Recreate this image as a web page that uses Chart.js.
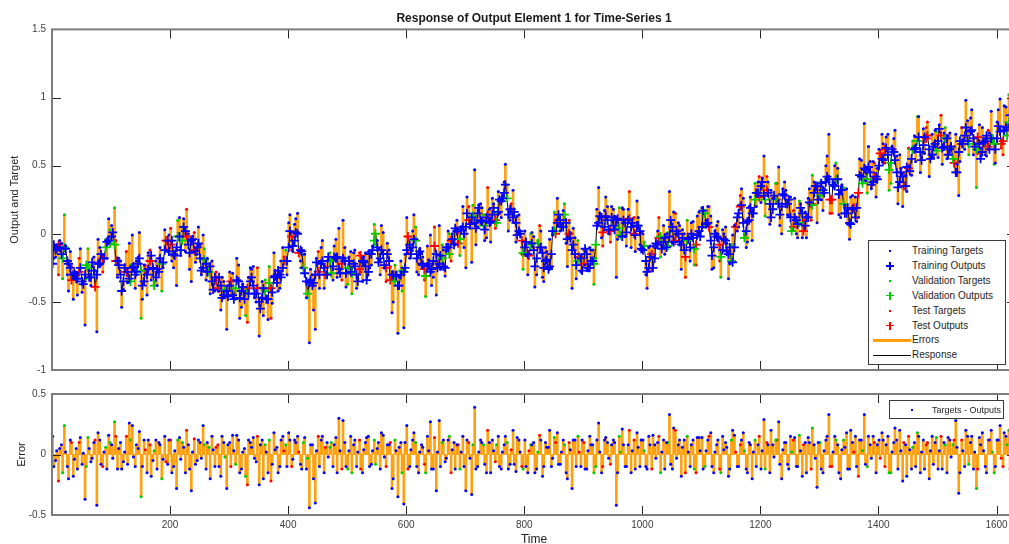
<!DOCTYPE html>
<html><head><meta charset="utf-8">
<script src="https://cdn.jsdelivr.net/npm/chart.js@4.4.1/dist/chart.umd.min.js"></script>
<style>
html,body{margin:0;padding:0;background:#fff;overflow:hidden;width:1009px;height:544px}
#wrap{position:relative;width:1009px;height:544px;overflow:hidden;font-family:"Liberation Sans",Arial,sans-serif}
.lg{position:absolute;background:#fff;border:1px solid #3a3a3a;box-sizing:border-box}
.row{position:absolute;left:0;width:100%;height:14px}
.txt{position:absolute;font-size:10px;line-height:14px;color:#1e1e1e;white-space:nowrap;top:0}
.dot{position:absolute;width:2px;height:2px;top:6px}
.ph{position:absolute;width:8px;height:1.6px;top:6.2px}
.pv{position:absolute;width:1.6px;height:8px;top:3px}
.ln{position:absolute;left:4px;width:38px}
</style></head>
<body><div id="wrap">
<canvas id="botC" width="1068" height="180" style="position:absolute;left:0;top:375px"></canvas>
<canvas id="topC" width="1068" height="382" style="position:absolute;left:0;top:0"></canvas>
<div id="legTop" class="lg" style="left:868px;top:240px;width:138px;height:125px"></div>
<div id="legBot" class="lg" style="left:889px;top:400px;width:115px;height:19px">
  <div class="dot" style="left:21px;top:8px;background:#0000ff"></div>
  <div class="txt" style="left:42px;top:2px;font-size:9px;line-height:14px">Targets - Outputs</div>
</div>
</div>
<script>
// ---- data ----
// samples A: time steps 1, 6, 11, ...
const timeStepsA = [
1,6,11,16,21,26,31,36,41,46,51,56,61,66,71,76,81,86,91,96,
101,106,111,116,121,126,131,136,141,146,151,156,161,166,171,176,181,186,191,196,
201,206,211,216,221,226,231,236,241,246,251,256,261,266,271,276,281,286,291,296,
301,306,311,316,321,326,331,336,341,346,351,356,361,366,371,376,381,386,391,396,
401,406,411,416,421,426,431,436,441,446,451,456,461,466,471,476,481,486,491,496,
501,506,511,516,521,526,531,536,541,546,551,556,561,566,571,576,581,586,591,596,
601,606,611,616,621,626,631,636,641,646,651,656,661,666,671,676,681,686,691,696,
701,706,711,716,721,726,731,736,741,746,751,756,761,766,771,776,781,786,791,796,
801,806,811,816,821,826,831,836,841,846,851,856,861,866,871,876,881,886,891,896,
901,906,911,916,921,926,931,936,941,946,951,956,961,966,971,976,981,986,991,996,
1001,1006,1011,1016,1021,1026,1031,1036,1041,1046,1051,1056,1061,1066,1071,1076,1081,1086,1091,1096,
1101,1106,1111,1116,1121,1126,1131,1136,1141,1146,1151,1156,1161,1166,1171,1176,1181,1186,1191,1196,
1201,1206,1211,1216,1221,1226,1231,1236,1241,1246,1251,1256,1261,1266,1271,1276,1281,1286,1291,1296,
1301,1306,1311,1316,1321,1326,1331,1336,1341,1346,1351,1356,1361,1366,1371,1376,1381,1386,1391,1396,
1401,1406,1411,1416,1421,1426,1431,1436,1441,1446,1451,1456,1461,1466,1471,1476,1481,1486,1491,1496,
1501,1506,1511,1516,1521,1526,1531,1536,1541,1546,1551,1556,1561,1566,1571,1576,1581,1586,1591,1596,
1601,1606,1611,1616,1621,1626];

const outputsA = [
-0.22,-0.12,-0.08,-0.15,-0.1,-0.2,-0.25,-0.3,-0.33,-0.28,-0.35,-0.3,-0.25,-0.32,-0.27,-0.3,-0.22,-0.18,-0.1,-0.05,
-0.02,-0.08,-0.2,-0.3,-0.35,-0.28,-0.33,-0.25,-0.3,-0.22,-0.27,-0.35,-0.3,-0.2,-0.25,-0.32,-0.28,-0.22,-0.12,-0.05,
-0.08,-0.15,-0.1,-0.02,-0.05,0.02,-0.08,-0.05,-0.12,-0.1,-0.18,-0.25,-0.22,-0.28,-0.35,-0.32,-0.4,-0.38,-0.45,-0.42,
-0.38,-0.45,-0.4,-0.35,-0.42,-0.48,-0.4,-0.35,-0.38,-0.44,-0.5,-0.47,-0.42,-0.48,-0.4,-0.32,-0.36,-0.3,-0.25,-0.2,
-0.1,-0.02,-0.05,0.0,-0.12,-0.25,-0.35,-0.36,-0.38,-0.3,-0.28,-0.22,-0.25,-0.3,-0.2,-0.24,-0.18,-0.26,-0.22,-0.2,
-0.25,-0.28,-0.22,-0.3,-0.26,-0.2,-0.24,-0.28,-0.15,-0.05,-0.1,-0.18,-0.15,-0.25,-0.2,-0.3,-0.35,-0.38,-0.3,-0.28,
-0.12,-0.08,-0.1,-0.05,-0.15,-0.22,-0.26,-0.24,-0.28,-0.2,-0.15,-0.22,-0.18,-0.25,-0.1,-0.05,-0.08,0.02,-0.04,0.05,
0.05,0.1,0.12,0.08,0.15,0.1,0.06,0.12,0.08,0.14,0.1,0.16,0.24,0.3,0.26,0.18,0.12,0.08,0.02,-0.05,
-0.1,-0.15,-0.08,-0.12,-0.18,-0.1,-0.14,-0.2,-0.26,-0.15,0.02,0.08,0.1,0.05,0.08,0.0,-0.12,-0.15,-0.2,-0.18,
-0.22,-0.15,-0.25,-0.2,-0.08,0.08,0.12,0.05,0.1,0.02,0.06,0.1,0.04,-0.02,0.08,0.1,0.05,0.0,0.06,0.02,
-0.12,-0.2,-0.25,-0.15,-0.18,-0.08,-0.02,-0.06,-0.1,-0.02,0.05,-0.05,0.0,-0.08,-0.12,-0.05,-0.1,-0.03,-0.08,0.02,
0.05,0.15,0.08,-0.05,-0.1,-0.02,-0.08,-0.12,-0.05,-0.15,-0.2,-0.1,0.12,0.2,0.08,0.02,0.1,0.15,0.25,0.3,
0.35,0.28,0.32,0.22,0.18,0.25,0.22,0.2,0.28,0.22,0.12,0.05,0.1,0.08,0.15,0.06,0.12,0.22,0.3,0.35,
0.28,0.32,0.38,0.4,0.25,0.35,0.4,0.32,0.22,0.15,0.08,0.18,0.12,0.3,0.42,0.48,0.4,0.45,0.38,0.42,
0.5,0.55,0.62,0.58,0.52,0.6,0.45,0.38,0.42,0.35,0.48,0.55,0.62,0.68,0.6,0.65,0.7,0.62,0.58,0.66,
0.68,0.72,0.64,0.7,0.62,0.55,0.45,0.6,0.66,0.72,0.68,0.75,0.7,0.62,0.66,0.6,0.68,0.64,0.7,0.66,
0.7,0.75,0.68,0.78,0.82,0.8];

const errorsA = [
0.15,-0.05,-0.22,0.08,0.24,-0.1,0.12,-0.18,0.05,0.1,-0.08,-0.37,0.14,-0.06,0.1,-0.42,0.12,-0.1,0.06,0.16,
0.08,0.27,-0.12,0.1,-0.06,0.15,0.26,0.24,-0.1,0.05,-0.35,0.12,-0.15,0.08,-0.05,0.12,0.1,-0.2,0.15,-0.08,
0.12,-0.1,-0.28,0.14,0.1,-0.15,0.08,-0.3,0.13,-0.05,0.1,0.24,-0.12,0.06,0.15,-0.1,0.08,-0.18,0.1,-0.28,
0.1,0.16,-0.08,0.12,-0.12,0.05,-0.25,0.1,0.14,-0.06,-0.25,0.12,0.08,-0.15,-0.22,0.18,0.06,-0.1,0.15,0.08,
0.18,-0.1,0.12,0.15,-0.08,0.1,-0.12,-0.44,0.08,-0.4,0.15,0.12,-0.15,0.1,0.06,-0.1,0.14,0.3,-0.12,0.1,
-0.12,0.15,0.08,-0.1,0.12,-0.15,0.1,0.15,-0.08,0.12,0.05,-0.12,0.16,-0.1,0.08,-0.28,0.12,-0.35,0.1,-0.41,
0.24,-0.1,0.12,0.1,-0.15,0.08,-0.08,0.15,0.27,-0.12,-0.3,0.28,0.1,-0.06,0.12,-0.15,0.1,0.08,-0.12,0.15,
-0.3,0.1,-0.33,0.39,-0.1,0.12,0.08,-0.15,0.1,0.12,-0.06,0.15,-0.12,0.08,0.1,-0.08,0.2,-0.14,0.12,-0.1,
0.12,-0.15,0.08,0.1,-0.12,0.16,-0.18,0.1,0.06,-0.1,0.14,0.18,-0.08,0.12,-0.15,0.1,-0.28,0.12,0.15,-0.1,
0.1,-0.12,0.15,0.08,-0.1,0.26,-0.15,0.12,0.1,-0.08,0.12,-0.42,0.15,0.21,-0.1,0.08,-0.15,0.12,0.18,-0.1,
0.12,-0.1,0.15,-0.12,0.08,0.1,-0.15,0.12,0.1,0.33,-0.12,0.2,0.08,-0.18,0.12,0.15,-0.1,0.12,-0.15,0.14,
0.14,-0.1,0.12,0.18,-0.15,0.08,-0.12,0.15,0.1,-0.18,0.12,0.16,-0.1,0.08,0.18,-0.12,0.1,-0.2,0.12,0.08,
-0.12,0.29,0.1,-0.15,0.08,0.12,0.27,-0.2,0.1,-0.08,0.15,0.12,-0.1,0.16,-0.18,0.1,0.14,-0.12,0.08,-0.27,
0.1,-0.15,0.12,0.33,-0.1,0.15,0.08,-0.2,0.12,0.18,-0.12,0.1,0.15,-0.18,0.12,0.33,-0.1,0.08,0.15,-0.15,
0.12,0.18,-0.1,0.15,-0.15,0.1,0.12,0.2,-0.22,0.08,0.15,-0.12,0.1,0.18,-0.15,0.12,0.08,-0.2,0.15,0.1,
-0.12,0.15,0.1,-0.15,0.12,0.08,0.28,-0.32,0.12,-0.1,0.15,0.1,-0.12,-0.28,0.14,0.18,-0.1,0.12,0.2,-0.15,
0.12,0.24,-0.1,0.15,0.2,-0.12];

// T = training, V = validation, S = test
const divisionsA = (
"TTSTVTTTTSTTVTTTTSVT"+"TVTTTSTTTTVTTSTTTVTT"+"STTTVTTTSTTTTVTTSTTT"+"TTVTTTSTTTTTVTSTTTTV"+
"TSTTTVTTTTSTTTVTTTST"+"VTTTSTTTTVTTTSTTVTTT"+"TTTVTTSTTTTTVTTSTTVT"+"TSTTTTVTTTSTTTVTTTTS"+
"TTVTTSTTTTVTTTTSTTVT"+"STTTVTTTTSTTVTTTTSTT"+"TTTSTTVTTTTSTTTVTTST"+"TVTTTTSTTTVTTSTTTTVT"+
"TTSTTVTTTTTSTVTTTSTT"+"VTTTSTTTVTTTTSTTVTTT"+"TTSTVTTTTTSTTVTTSTTT"+"TSTTTVTTSTTTTVTTTSTV"+
"TTSTVT").split("");

// samples B: time steps 3, 8, 13, ...
const timeStepsB = [
3,8,13,18,23,28,33,38,43,48,53,58,63,68,73,78,83,88,93,98,
103,108,113,118,123,128,133,138,143,148,153,158,163,168,173,178,183,188,193,198,
203,208,213,218,223,228,233,238,243,248,253,258,263,268,273,278,283,288,293,298,
303,308,313,318,323,328,333,338,343,348,353,358,363,368,373,378,383,388,393,398,
403,408,413,418,423,428,433,438,443,448,453,458,463,468,473,478,483,488,493,498,
503,508,513,518,523,528,533,538,543,548,553,558,563,568,573,578,583,588,593,598,
603,608,613,618,623,628,633,638,643,648,653,658,663,668,673,678,683,688,693,698,
703,708,713,718,723,728,733,738,743,748,753,758,763,768,773,778,783,788,793,798,
803,808,813,818,823,828,833,838,843,848,853,858,863,868,873,878,883,888,893,898,
903,908,913,918,923,928,933,938,943,948,953,958,963,968,973,978,983,988,993,998,
1003,1008,1013,1018,1023,1028,1033,1038,1043,1048,1053,1058,1063,1068,1073,1078,1083,1088,1093,1098,
1103,1108,1113,1118,1123,1128,1133,1138,1143,1148,1153,1158,1163,1168,1173,1178,1183,1188,1193,1198,
1203,1208,1213,1218,1223,1228,1233,1238,1243,1248,1253,1258,1263,1268,1273,1278,1283,1288,1293,1298,
1303,1308,1313,1318,1323,1328,1333,1338,1343,1348,1353,1358,1363,1368,1373,1378,1383,1388,1393,1398,
1403,1408,1413,1418,1423,1428,1433,1438,1443,1448,1453,1458,1463,1468,1473,1478,1483,1488,1493,1498,
1503,1508,1513,1518,1523,1528,1533,1538,1543,1548,1553,1558,1563,1568,1573,1578,1583,1588,1593,1598,
1603,1608,1613,1618,1623];

const outputsB = [
-0.08,-0.11,-0.1,-0.18,-0.11,-0.22,-0.34,-0.29,-0.33,-0.25,-0.37,-0.23,-0.32,-0.21,-0.39,-0.22,-0.15,-0.18,-0.06,-0.07,
0.01,-0.2,-0.23,-0.42,-0.25,-0.28,-0.35,-0.24,-0.28,-0.18,-0.38,-0.27,-0.26,-0.16,-0.38,-0.26,-0.18,-0.21,-0.05,-0.13,
-0.05,-0.16,-0.02,-0.12,0.05,-0.02,-0.14,-0.04,-0.13,-0.07,-0.27,-0.19,-0.28,-0.24,-0.41,-0.34,-0.32,-0.47,-0.41,-0.46,
-0.35,-0.48,-0.34,-0.47,-0.39,-0.42,-0.44,-0.32,-0.44,-0.4,-0.55,-0.4,-0.48,-0.36,-0.43,-0.31,-0.27,-0.32,-0.2,-0.2,
0.02,-0.09,0.01,-0.14,-0.13,-0.29,-0.44,-0.34,-0.36,-0.21,-0.3,-0.2,-0.3,-0.17,-0.29,-0.17,-0.17,-0.29,-0.18,-0.29,
-0.2,-0.29,-0.24,-0.35,-0.16,-0.21,-0.34,-0.15,-0.12,0.0,-0.21,-0.12,-0.23,-0.15,-0.34,-0.3,-0.31,-0.38,-0.27,-0.25,
-0.02,-0.15,-0.04,-0.18,-0.13,-0.23,-0.31,-0.22,-0.26,-0.09,-0.25,-0.16,-0.24,-0.1,-0.15,-0.04,0.04,-0.07,0.03,0.0,
0.15,0.07,0.13,0.04,0.19,0.09,0.03,0.14,0.09,0.19,0.08,0.25,0.26,0.36,0.14,0.18,0.16,-0.01,0.0,-0.14,
-0.06,-0.16,-0.07,-0.24,-0.07,-0.1,-0.25,-0.19,-0.24,0.02,0.0,0.14,0.05,0.14,-0.04,-0.03,-0.08,-0.23,-0.17,-0.27,
-0.11,-0.25,-0.2,-0.22,0.06,0.13,0.01,0.13,0.03,0.12,0.03,0.11,-0.01,0.1,0.01,0.11,0.08,-0.01,0.06,-0.11,
-0.09,-0.28,-0.17,-0.25,-0.07,-0.03,-0.11,-0.03,-0.09,0.1,-0.06,0.02,-0.06,-0.03,-0.17,-0.04,0.0,-0.11,-0.01,-0.02,
0.17,0.07,0.05,-0.16,0.0,-0.03,-0.17,-0.04,-0.13,-0.1,-0.21,0.05,0.15,0.21,-0.03,0.09,0.19,0.15,0.3,0.27,
0.38,0.25,0.3,0.12,0.28,0.25,0.14,0.29,0.22,0.25,0.02,0.12,0.07,0.19,0.02,0.12,0.23,0.21,0.35,0.25,
0.37,0.3,0.42,0.25,0.36,0.4,0.29,0.32,0.15,0.19,0.07,0.19,0.19,0.43,0.37,0.47,0.49,0.36,0.42,0.4,
0.59,0.54,0.63,0.47,0.62,0.54,0.34,0.45,0.35,0.49,0.46,0.62,0.63,0.71,0.54,0.71,0.72,0.55,0.64,0.61,
0.77,0.63,0.7,0.58,0.64,0.52,0.45,0.68,0.66,0.78,0.66,0.76,0.64,0.71,0.55,0.67,0.72,0.62,0.7,0.62,
0.79,0.66,0.76,0.72,0.87];

const errorsB = [
-0.1,0.03,0.05,-0.15,0.02,-0.2,0.1,-0.04,-0.12,0.14,0.01,-0.1,0.05,-0.03,0.12,0.18,-0.08,0.02,-0.12,0.1,
-0.03,0.15,0.05,-0.12,0.02,-0.08,0.12,-0.02,0.08,0.19,-0.1,0.04,0.12,-0.18,0.03,-0.12,0.08,-0.04,-0.06,0.12,
-0.15,0.03,0.12,-0.04,0.06,0.2,-0.12,0.02,-0.08,0.12,-0.03,0.08,0.1,-0.2,0.04,0.06,-0.1,0.15,-0.02,0.08,
-0.1,0.03,0.16,-0.15,0.02,-0.18,0.12,0.06,-0.03,0.15,0.08,-0.2,0.02,0.12,-0.08,0.04,-0.15,0.12,0.03,-0.1,
0.12,-0.04,0.1,0.02,-0.12,0.14,-0.03,0.08,-0.2,0.03,-0.1,0.15,0.06,-0.02,0.1,0.08,-0.15,0.03,0.28,-0.1,
0.03,-0.15,0.12,0.02,-0.12,0.04,0.14,-0.1,0.03,-0.08,0.1,0.18,-0.02,0.08,0.1,-0.2,0.03,0.06,-0.15,0.1,
-0.12,0.04,0.18,-0.1,0.02,0.06,-0.15,0.03,-0.12,0.14,0.02,-0.1,0.12,-0.03,0.15,0.04,-0.12,0.08,0.02,-0.1,
0.12,-0.03,0.08,-0.12,0.02,0.1,-0.08,0.2,-0.15,0.03,0.08,-0.1,0.02,0.15,-0.12,0.04,-0.08,0.14,0.02,-0.12,
-0.1,0.03,0.08,-0.15,0.02,0.12,-0.1,0.06,0.2,-0.03,0.1,-0.08,0.02,0.08,-0.2,0.04,0.12,-0.1,0.02,0.12,
-0.12,0.03,0.08,-0.15,0.12,0.02,-0.1,0.14,-0.03,0.08,0.1,-0.15,0.02,0.08,-0.1,0.2,0.03,-0.12,0.06,0.12,
0.03,-0.12,0.08,0.16,-0.03,0.15,0.02,-0.12,0.1,-0.08,0.22,-0.03,0.12,0.06,-0.15,0.02,0.08,-0.12,0.14,0.03,
-0.12,0.03,0.15,-0.1,0.02,0.12,-0.15,0.04,0.06,-0.12,0.2,0.02,-0.1,0.12,0.03,-0.15,0.08,0.02,-0.1,0.15,
0.03,-0.12,0.08,0.2,-0.02,0.12,-0.08,0.04,0.1,-0.12,0.02,0.14,-0.1,0.03,0.08,-0.15,0.1,0.22,-0.03,0.1,
-0.12,0.03,0.15,-0.1,0.02,0.12,-0.15,0.04,0.06,-0.12,0.2,0.02,-0.1,0.12,0.03,-0.08,0.15,-0.03,0.1,0.08,
-0.03,0.12,0.08,-0.15,0.02,0.22,-0.12,0.03,0.1,-0.18,0.04,0.06,-0.1,0.15,0.02,-0.12,0.1,0.03,-0.08,0.14,
0.03,-0.12,0.08,0.14,-0.02,0.12,0.06,-0.15,0.03,0.2,-0.08,0.15,0.02,-0.12,0.08,0.03,-0.15,0.12,0.02,-0.1,
0.12,-0.03,0.18,0.08,-0.12];

const divisionsB = (
"TTTVTTSTTTTVTTSTTTTV"+"TSTTTTVTTTTSTTVTTTST"+"TTVTTSTTTTTVTTTSTTVT"+"STTTTVTTTSTTTVTTTTST"+
"TTTSTTVTTTTTSTVTTTTT"+"TVTTSTTTTVTTTTSTTTVT"+"STTTTTVTTSTTTTVTTSTT"+"TTVTTTTSTTVTTTTSTTTV"+
"TSTTVTTTTTSTTVTTTTST"+"TTTVTTSTTTTTVTTSTTTT"+"VTTTTSTTVTTTTTSTTVTT"+"TTSTTTVTTTTSTTVTTTTS"+
"TVTTTSTTTTVTTTSTTVTT"+"TTTSTVTTTTTSTTVTTTST"+"STTVTTTTSTTVTTTTSTTV"+"TTVTTSTTTTVTTSTTTTVT"+
"TSTVT").split("");

const xTickValues = [200,400,600,800,1000,1200,1400,1600];
const yTicksTop = [-1,-0.5,0,0.5,1,1.5];
const yTicksBottom = [-0.5,0,0.5];

// ---- build one time-ordered table from the arrays ----
const table = [];
timeStepsA.forEach((t,i)=>table.push({t, o:outputsA[i], e:errorsA[i], d:divisionsA[i]}));
timeStepsB.forEach((t,i)=>table.push({t, o:outputsB[i], e:errorsB[i], d:divisionsB[i]}));
table.sort((a,b)=>a.t-b.t);
table.forEach(r=>{ r.g = +(r.o + r.e).toFixed(3); });   // target = output + error

const COLORS = {T:'#0000ff', V:'#00cc00', S:'#ff0000'};
const ORANGE = '#ffa010';

function pts(kind, set){
  return table.filter(r=>r.d===set).map(r=>({x:r.t, y: kind==='target'? r.g : kind==='output'? r.o : r.e}));
}

Chart.defaults.font.family = '"Liberation Sans", Arial, sans-serif';

const framePlugin = {
  id:'frame',
  afterDatasetsDraw(chart, args, opts){
    const {ctx, chartArea:a, scales} = chart;
    ctx.save();
    ctx.beginPath();
    ctx.strokeStyle = '#262626'; ctx.lineWidth = 1;
    const L = opts.len;
    opts.xt.forEach(v=>{
      const x = Math.round(scales.x.getPixelForValue(v))+0.5;
      ctx.moveTo(x,a.top); ctx.lineTo(x,a.top+L);
      ctx.moveTo(x,a.bottom); ctx.lineTo(x,a.bottom-L);
    });
    opts.yt.forEach(v=>{
      const y = Math.round(scales.y.getPixelForValue(v))+0.5;
      ctx.moveTo(a.left,y); ctx.lineTo(a.left+L,y);
      ctx.moveTo(a.right,y); ctx.lineTo(a.right-L,y);
    });
    ctx.stroke();
    ctx.strokeStyle = '#7c7c7c'; ctx.lineWidth = 2;
    ctx.strokeRect(a.left, a.top, a.right-a.left, a.bottom-a.top);
    ctx.restore();
  }
};

function yAxis(min,max,ticks,title,titlePad){
  return {
    type:'linear', position:'left', min:min, max:max,
    afterBuildTicks(s){ s.ticks = ticks.map(v=>({value:v})); },
    afterFit(s){ s.width = 52; },
    grid:{display:false, drawTicks:false}, border:{display:false},
    ticks:{color:'#404040', font:{size:10}, padding:6, callback:v=>String(v)},
    title:{display:true, text:title, color:'#222', font:{size:11}, padding:{top:titlePad,bottom:0}}
  };
}
const rightAxis = {position:'right', display:true, grid:{display:false, drawTicks:false}, border:{display:false},
  ticks:{display:false}, afterFit(s){ s.width = 52; }};

// ---- top chart ----
const topDatasets = [
  {type:'bar', data: table.map(r=>({x:r.t,y:[r.o,r.g]})), backgroundColor:ORANGE,
   barThickness:2, grouped:false, order:10},
  {type:'line', data: table.map(r=>({x:r.t,y:r.o})), borderColor:'#000', borderWidth:1,
   pointRadius:0, order:9, tension:0}
];
['S','V','T'].forEach((s,k)=>{
  topDatasets.push({type:'scatter', data:pts('output',s), pointStyle:'cross', pointRadius:4.5,
    borderColor:COLORS[s], borderWidth:1.8, backgroundColor:COLORS[s], order:8-2*k});
  topDatasets.push({type:'scatter', data:pts('target',s), pointStyle:'circle', pointRadius:1.5,
    borderWidth:0, backgroundColor:COLORS[s], order:7-2*k});
});

new Chart(document.getElementById('topC'), {
  type:'scatter',
  data:{datasets:topDatasets},
  options:{
    responsive:false, animation:false, events:[],
    layout:{padding:0},
    plugins:{
      legend:{display:false}, tooltip:{enabled:false},
      title:{display:true, text:'Response of Output Element 1 for Time-Series 1', color:'#1a1a1a',
        font:{size:12, weight:'bold'}, padding:{top:11,bottom:4}},
      frame:{len:9, xt:xTickValues, yt:yTicksTop}
    },
    scales:{
      x:{type:'linear', min:0, max:1633, offset:false, position:'bottom',
         afterBuildTicks(s){ s.ticks = xTickValues.map(v=>({value:v})); },
         afterFit(s){ s.height = 6; },
         grid:{display:false, drawTicks:false}, border:{display:false}, ticks:{display:false}},
      y: yAxis(-1,1.5,yTicksTop,'Output and Target',8),
      yR: rightAxis
    }
  },
  plugins:[framePlugin]
});

// ---- bottom chart ----
const botDatasets = [
  {type:'bar', data: table.map(r=>({x:r.t,y:[0,r.e]})), backgroundColor:ORANGE,
   barThickness:2, grouped:false, order:10}
];
['S','V','T'].forEach((s,k)=>{
  botDatasets.push({type:'scatter', data:pts('error',s), pointStyle:'circle', pointRadius:1.5,
    borderWidth:0, backgroundColor:COLORS[s], order:5-k});
});

new Chart(document.getElementById('botC'), {
  type:'scatter',
  data:{datasets:botDatasets},
  options:{
    responsive:false, animation:false, events:[],
    layout:{padding:{top:19,left:0,right:0,bottom:0}},
    plugins:{legend:{display:false}, tooltip:{enabled:false},
      frame:{len:9, xt:xTickValues, yt:yTicksBottom}},
    scales:{
      x:{type:'linear', min:0, max:1633, offset:false, position:'bottom',
         afterBuildTicks(s){ s.ticks = xTickValues.map(v=>({value:v})); },
         afterFit(s){ s.height = 40; },
         grid:{display:false, drawTicks:false}, border:{display:false},
         ticks:{color:'#404040', font:{size:10}, padding:4, maxRotation:0, autoSkip:false, callback:v=>String(v)},
         title:{display:true, text:'Time', color:'#222', font:{size:12}, padding:{top:0,bottom:8}}},
      y: yAxis(-0.5,0.5,yTicksBottom,'Error',15),
      yR: rightAxis
    }
  },
  plugins:[framePlugin]
});

// ---- HTML legend for the top axes ----
const legendItems = [
  {label:'Training Targets', kind:'dot', color:COLORS.T},
  {label:'Training Outputs', kind:'plus', color:COLORS.T},
  {label:'Validation Targets', kind:'dot', color:COLORS.V},
  {label:'Validation Outputs', kind:'plus', color:COLORS.V},
  {label:'Test Targets', kind:'dot', color:COLORS.S},
  {label:'Test Outputs', kind:'plus', color:COLORS.S},
  {label:'Errors', kind:'line', color:ORANGE, w:3},
  {label:'Response', kind:'line', color:'#000', w:1}
];
const lg = document.getElementById('legTop');
legendItems.forEach((it,i)=>{
  const r = document.createElement('div');
  r.className='row'; r.style.top = (3 + i*14.9) + 'px';
  let m='';
  if(it.kind==='dot') m = `<div class="dot" style="left:20px;background:${it.color}"></div>`;
  else if(it.kind==='plus') m = `<div class="ph" style="left:17px;background:${it.color}"></div><div class="pv" style="left:20.2px;background:${it.color}"></div>`;
  else m = `<div class="ln" style="top:${7-it.w/2}px;height:${it.w}px;background:${it.color}"></div>`;
  r.innerHTML = m + `<div class="txt" style="left:43px">${it.label}</div>`;
  lg.appendChild(r);
});
</script>
</body></html>
